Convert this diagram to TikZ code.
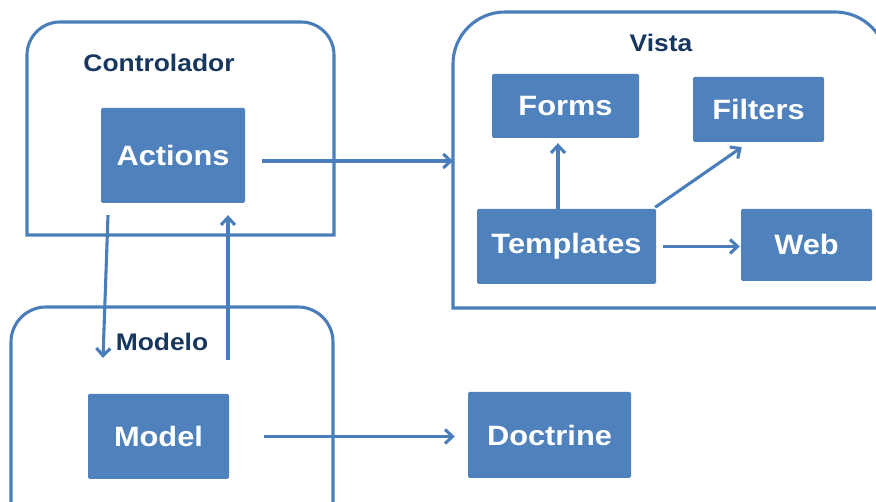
\documentclass[tikz,border=0pt]{standalone}
\usepackage{fontspec}
\newfontfamily\diagfont{Liberation Sans}[FakeStretch=1.1]
\usetikzlibrary{arrows.meta}
\definecolor{boxblue}{HTML}{4F81BD}
\definecolor{lineblue}{HTML}{4A7EBB}
\definecolor{navy}{HTML}{17375E}
\begin{document}
\begin{tikzpicture}[x=1pt,y=1pt,
  frame/.style={draw=lineblue, line width=3.1pt},
  unit/.style={fill=boxblue, rounded corners=1.5pt, text=white, inner sep=0pt,
    font=\diagfont\bfseries\fontsize{28}{30}\selectfont},
  layer/.style={text=navy, inner sep=0pt,
    font=\diagfont\bfseries\fontsize{24}{26}\selectfont},
  link/.style={draw=lineblue, line width=3.1pt,
    -{Straight Barb[length=7.5pt,width=14pt]}}]
\useasboundingbox (0,0) rectangle (876,502);
\clip (0,0) rectangle (876,502);

% layer frames: rounded at the top, square at the bottom
\draw[frame] (27,267) -- (27,447) arc[start angle=180,end angle=90,radius=33]
  -- (301,480) arc[start angle=90,end angle=0,radius=33] -- (334,267) -- cycle;
\draw[frame] (453,194) -- (453,438) arc[start angle=180,end angle=90,radius=52]
  -- (835,490) arc[start angle=90,end angle=0,radius=52] -- (887,194) -- cycle;
\draw[frame] (11,-10) -- (11,160) arc[start angle=180,end angle=90,radius=35]
  -- (298,195) arc[start angle=90,end angle=0,radius=35] -- (333,-10);

% layer titles
\node[layer] (ctl) at (159,439) {Controlador};
\node[layer] (vis) at (661,459) {Vista};
\node[layer] (mod) at (162,160) {Modelo};

% components
\node[unit, minimum width=144pt, minimum height=95pt] (actions)   at (173,346.5) {Actions};
\node[unit, minimum width=147pt, minimum height=64pt] (forms)     at (565.5,396) {Forms};
\node[unit, minimum width=131pt, minimum height=65pt] (filters)   at (758.5,392.5) {Filters};
\node[unit, minimum width=179pt, minimum height=75pt] (templates) at (566.5,255.5) {Templates};
\node[unit, minimum width=131pt, minimum height=72pt] (web)       at (806.5,257) {Web};
\node[unit, minimum width=141pt, minimum height=85pt] (model)     at (158.5,65.5) {Model};
\node[unit, minimum width=163pt, minimum height=86pt] (doctrine)  at (549.5,67) {Doctrine};

% free ends of the connectors
\coordinate (vistain) at (453,341);
\coordinate (modin)   at (103,144);
\coordinate (modout)  at (228,142);

% connectors
\draw[link, shorten <=17pt] ([yshift=-5.5pt]actions.east) -- (vistain);
\draw[link] ([shift={(-65pt,-12pt)}]actions.south) -- (modin);
\draw[link] (modout) -- ([shift={(55pt,-12pt)}]actions.south);
\draw[link, shorten <=35pt, shorten >=13pt] (model.east) -- (model.east -| doctrine.west);
\draw[link] ([xshift=-8.5pt]templates.north) -- ([shift={(-7.5pt,-5pt)}]forms.south);
\draw[link] ([shift={(-1pt,1.5pt)}]templates.north east) -- ([shift={(49pt,-5pt)}]filters.south west);
\draw[link, shorten <=7pt, shorten >=1pt] (templates.east) -- (templates.east -| web.west);
\end{tikzpicture}
\end{document}
